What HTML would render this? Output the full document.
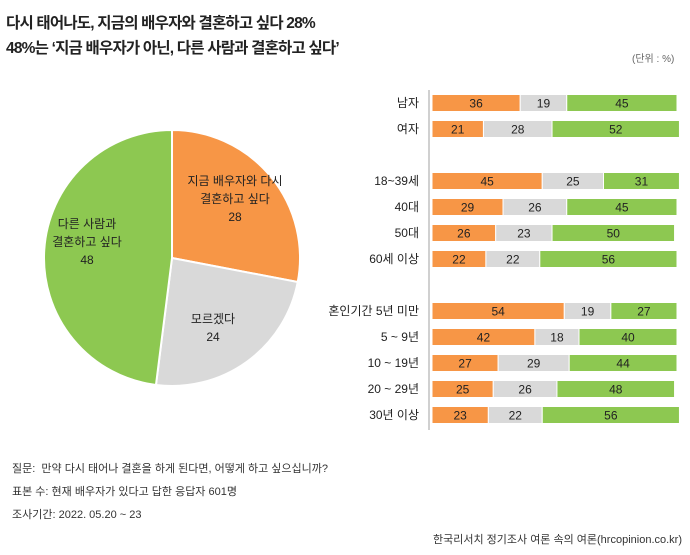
<!DOCTYPE html>
<html><head><meta charset="utf-8">
<style>
body{margin:0;width:690px;height:555px;background:#fff;font-family:"Liberation Sans","Noto Sans CJK KR",sans-serif;color:#222;position:relative;overflow:hidden}
.t{position:absolute;white-space:nowrap}
</style></head><body>
<div class="t" style="left:6px;top:11px;font-size:15.5px;font-weight:bold;letter-spacing:-0.8px">다시 태어나도, 지금의 배우자와 결혼하고 싶다 28%</div>
<div class="t" style="left:6px;top:36px;font-size:15.5px;font-weight:bold;letter-spacing:-0.8px">48%는 ‘지금 배우자가 아닌, 다른 사람과 결혼하고 싶다’</div>
<div class="t" style="left:632px;top:50px;font-size:10px;color:#666">(단위 : %)</div>
<svg id="chart" width="690" height="555" style="position:absolute;left:0;top:0"></svg>
<div class="t" style="left:12px;top:460px;font-size:11px;color:#333">질문:&nbsp; 만약 다시 태어나 결혼을 하게 된다면, 어떻게 하고 싶으십니까?</div>
<div class="t" style="left:12px;top:483px;font-size:11px;color:#333">표본 수: 현재 배우자가 있다고 답한 응답자 601명</div>
<div class="t" style="left:12px;top:506px;font-size:11px;color:#333">조사기간: 2022. 05.20 ~ 23</div>
<div class="t" style="right:8px;top:531px;font-size:11px;color:#333">한국리서치 정기조사 여론 속의 여론(hrcopinion.co.kr)</div>
<script>
const pieLabels=["지금 배우자와 다시\n결혼하고 싶다","모르겠다","다른 사람과\n결혼하고 싶다"];
const pieValues=[28,24,48];
const categories=["남자","여자","18~39세","40대","50대","60세 이상","혼인기간 5년 미만","5 ~ 9년","10 ~ 19년","20 ~ 29년","30년 이상"];
const seriesMarry=[36,21,45,29,26,22,54,42,27,25,23];
const seriesUnsure=[19,28,25,26,23,22,19,18,29,26,22];
const seriesOther=[45,52,31,45,50,56,27,40,44,48,56];
const colors=["#F79646","#D9D9D9","#8DC851"];
const NS="http://www.w3.org/2000/svg";
const svg=document.getElementById('chart');
function mk(tag,attrs){const e=document.createElementNS(NS,tag);for(const k in attrs)e.setAttribute(k,attrs[k]);svg.appendChild(e);return e;}
const cx=172,cy=258,r=128;
const tot=pieValues.reduce((a,b)=>a+b,0);
let a0=0;
const labelPos=[[235,203],[213,332],[87,246]];
pieValues.forEach((v,i)=>{
  const a1=a0+v/tot*2*Math.PI;
  const x0=cx+r*Math.sin(a0),y0=cy-r*Math.cos(a0),x1=cx+r*Math.sin(a1),y1=cy-r*Math.cos(a1);
  const p=mk('path',{d:`M${cx},${cy}L${x0},${y0}A${r},${r} 0 ${a1-a0>Math.PI?1:0} 1 ${x1},${y1}Z`,fill:colors[i],stroke:'#fff','stroke-width':2});
  
  
  const lines=(pieLabels[i]+"\n"+v).split("\n");
  const [lx,ly]=labelPos[i];
  const t=mk('text',{x:lx,y:ly-(lines.length-1)*9,'text-anchor':'middle','font-size':12,fill:'#222'});
  
  
  lines.forEach((ln,j)=>{const s=document.createElementNS(NS,'tspan');s.setAttribute('x',lx);s.setAttribute('dy',j?18:0);s.textContent=ln;t.appendChild(s);});
  a0=a1;
});
const rowY=[103,129,181,207,233,259,311,337,363,389,415];
const bx=432, scale=2.45, bh=17;
const ax=mk('line',{x1:429,y1:90,x2:429,y2:430,stroke:'#d0d0d0','stroke-width':2});


categories.forEach((c,i)=>{
  const y=rowY[i];
  const lab=mk('text',{x:419,y:y+4,'text-anchor':'end','font-size':12,fill:'#222'});
  lab.textContent=c;
  
  
  let x=bx;
  [seriesMarry[i],seriesUnsure[i],seriesOther[i]].forEach((v,k)=>{
    const w=v*scale;
    const rc=mk('rect',{x:x,y:y-bh/2,width:w,height:bh,fill:colors[k],stroke:'#fff','stroke-width':1});
    
    
    const tx=mk('text',{x:x+w/2,y:y+4.5,'text-anchor':'middle','font-size':12,fill:'#222'});
    tx.textContent=v;
    
    
    x+=w;
  });
});
</script>
</body></html>
